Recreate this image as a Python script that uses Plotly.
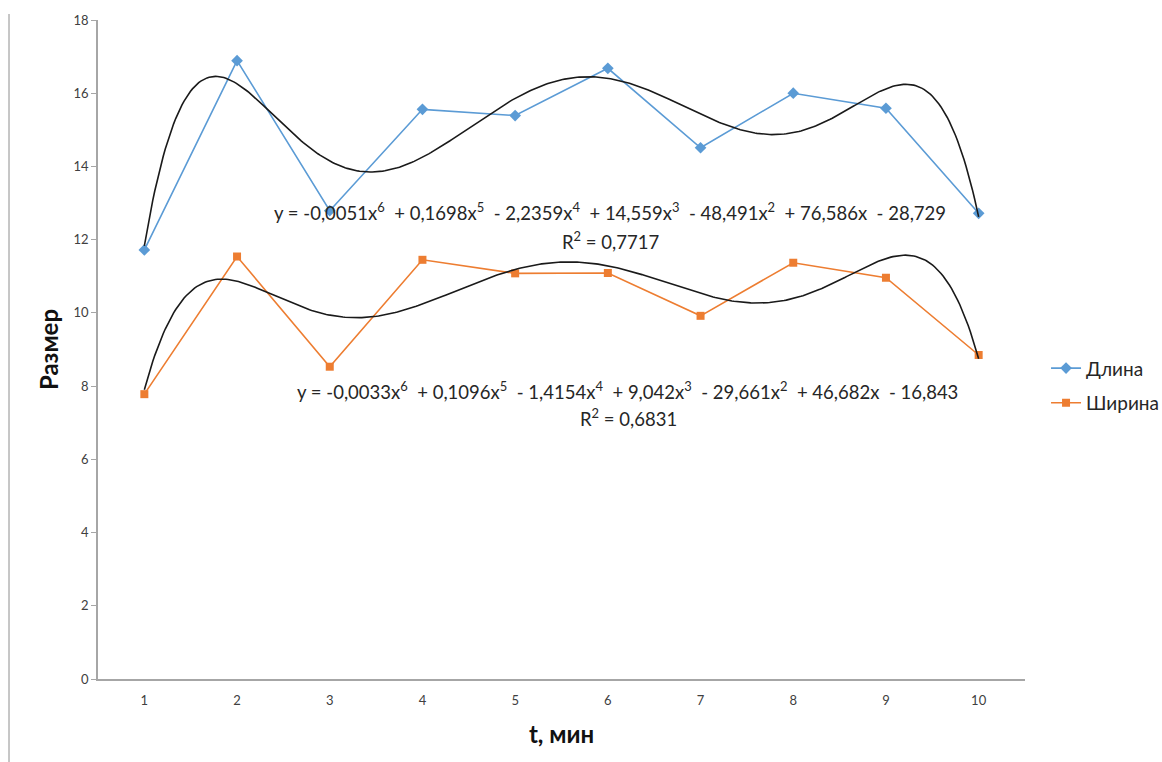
import numpy as np
import plotly.graph_objects as go

categories = [1, 2, 3, 4, 5, 6, 7, 8, 9, 10]
dlina = [11.72, 16.89, 12.79, 15.56, 15.39, 16.68, 14.51, 16.00, 15.59, 12.72]
shirina = [7.78, 11.54, 8.53, 11.45, 11.08, 11.09, 9.92, 11.37, 10.96, 8.85]

# Trendline labels as printed on the chart (x^6 ... x^0)
label_dlina = [-0.0051, 0.1698, -2.2359, 14.559, -48.491, 76.586, -28.729]
label_shirina = [-0.0033, 0.1096, -1.4154, 9.042, -29.661, 46.682, -16.843]
r2_dlina = "0,7717"
r2_shirina = "0,6831"

y_ticks = [0, 2, 4, 6, 8, 10, 12, 14, 16, 18]

BLUE = "#5B9BD5"
ORANGE = "#ED7D31"
AXIS = "#A6A6A6"
TXT = "#404040"
FONT = "Lato"

# degree-6 polynomial trendlines fitted to the data
fit_dlina = np.polyfit(categories, dlina, 6)
fit_shirina = np.polyfit(categories, shirina, 6)
xs = np.linspace(categories[0], categories[-1], 400)

fig = go.Figure()
fig.add_trace(go.Scatter(x=categories, y=dlina, mode="lines+markers", name="Длина", legendgroup="a",
                         line=dict(color=BLUE, width=1.6),
                         marker=dict(symbol="diamond", size=9, color=BLUE)))
fig.add_trace(go.Scatter(x=categories, y=shirina, mode="lines+markers", name="Ширина", legendgroup="b",
                         line=dict(color=ORANGE, width=1.6),
                         marker=dict(symbol="square", size=8, color=ORANGE)))
fig.add_trace(go.Scatter(x=xs, y=np.polyval(fit_dlina, xs), mode="lines", showlegend=False,
                         line=dict(color="#1a1a1a", width=1.6), hoverinfo="skip"))
fig.add_trace(go.Scatter(x=xs, y=np.polyval(fit_shirina, xs), mode="lines", showlegend=False,
                         line=dict(color="#1a1a1a", width=1.6), hoverinfo="skip"))


def fmt(v):
    return ("%g" % abs(v)).replace(".", ",")


def equation(coefs):
    n = len(coefs) - 1
    parts = []
    for i, c in enumerate(coefs):
        p = n - i
        sign = "-" if c < 0 else "+"
        if p > 1:
            term = fmt(c) + "x<sup>%d</sup>" % p
        elif p == 1:
            term = fmt(c) + "x"
        else:
            term = fmt(c)
        if i == 0:
            parts.append(("-" if c < 0 else "") + term)
        else:
            parts.append("\u00a0" + sign + " " + term)
    return "y = " + " ".join(parts)


ann_font = dict(family=FONT, size=18.5, color="#262626")
fig.add_annotation(x=6.02, y=12.78, text=equation(label_dlina), showarrow=False, font=ann_font,
                   xanchor="center", yanchor="middle")
fig.add_annotation(x=6.03, y=11.99, text="R<sup>2</sup> = " + r2_dlina, showarrow=False, font=ann_font,
                   xanchor="center", yanchor="middle")
fig.add_annotation(x=6.21, y=7.89, text=equation(label_shirina), showarrow=False, font=ann_font,
                   xanchor="center", yanchor="middle")
fig.add_annotation(x=6.22, y=7.13, text="R<sup>2</sup> = " + r2_shirina, showarrow=False, font=ann_font,
                   xanchor="center", yanchor="middle")

# thin gray border line at the far left of the chart area
fig.add_shape(type="line", xref="paper", yref="paper", x0=-0.096, x1=-0.096, y0=-0.13, y1=1.009,
              line=dict(color="#B4B4B4", width=1.5))

fig.update_layout(
    width=1162, height=762,
    margin=dict(l=98, r=137, t=20, b=83, autoexpand=False),
    paper_bgcolor="white", plot_bgcolor="white",
    font=dict(family=FONT, color=TXT, size=13),
    showlegend=True,
    legend=dict(x=1.0227, y=0.445, xanchor="left", yanchor="middle",
                font=dict(family=FONT, size=19, color="#262626"),
                traceorder="grouped", tracegroupgap=7, itemwidth=30, bgcolor="rgba(0,0,0,0)"),
    xaxis=dict(range=[0.5, 10.5], tickmode="array", tickvals=categories,
               ticktext=[str(c) for c in categories],
               showgrid=False, zeroline=False, showline=True, linecolor=AXIS, linewidth=1.5,
               ticks="", ticklabelstandoff=9, tickfont=dict(family=FONT, size=13, color=TXT),
               title=dict(text="<b>t, мин</b>", font=dict(family=FONT, size=24, color="#111111"),
                          standoff=19)),
    yaxis=dict(range=[0, 18], tickmode="array", tickvals=y_ticks,
               showgrid=False, zeroline=False, showline=True, linecolor=AXIS, linewidth=1.5,
               ticks="outside", ticklen=5, tickcolor=AXIS, tickwidth=1,
               tickfont=dict(family=FONT, size=13, color=TXT),
               title=dict(text="<b>Размер</b>", font=dict(family=FONT, size=24, color="#111111"),
                          standoff=8)),
)

fig.write_html("out.html")
